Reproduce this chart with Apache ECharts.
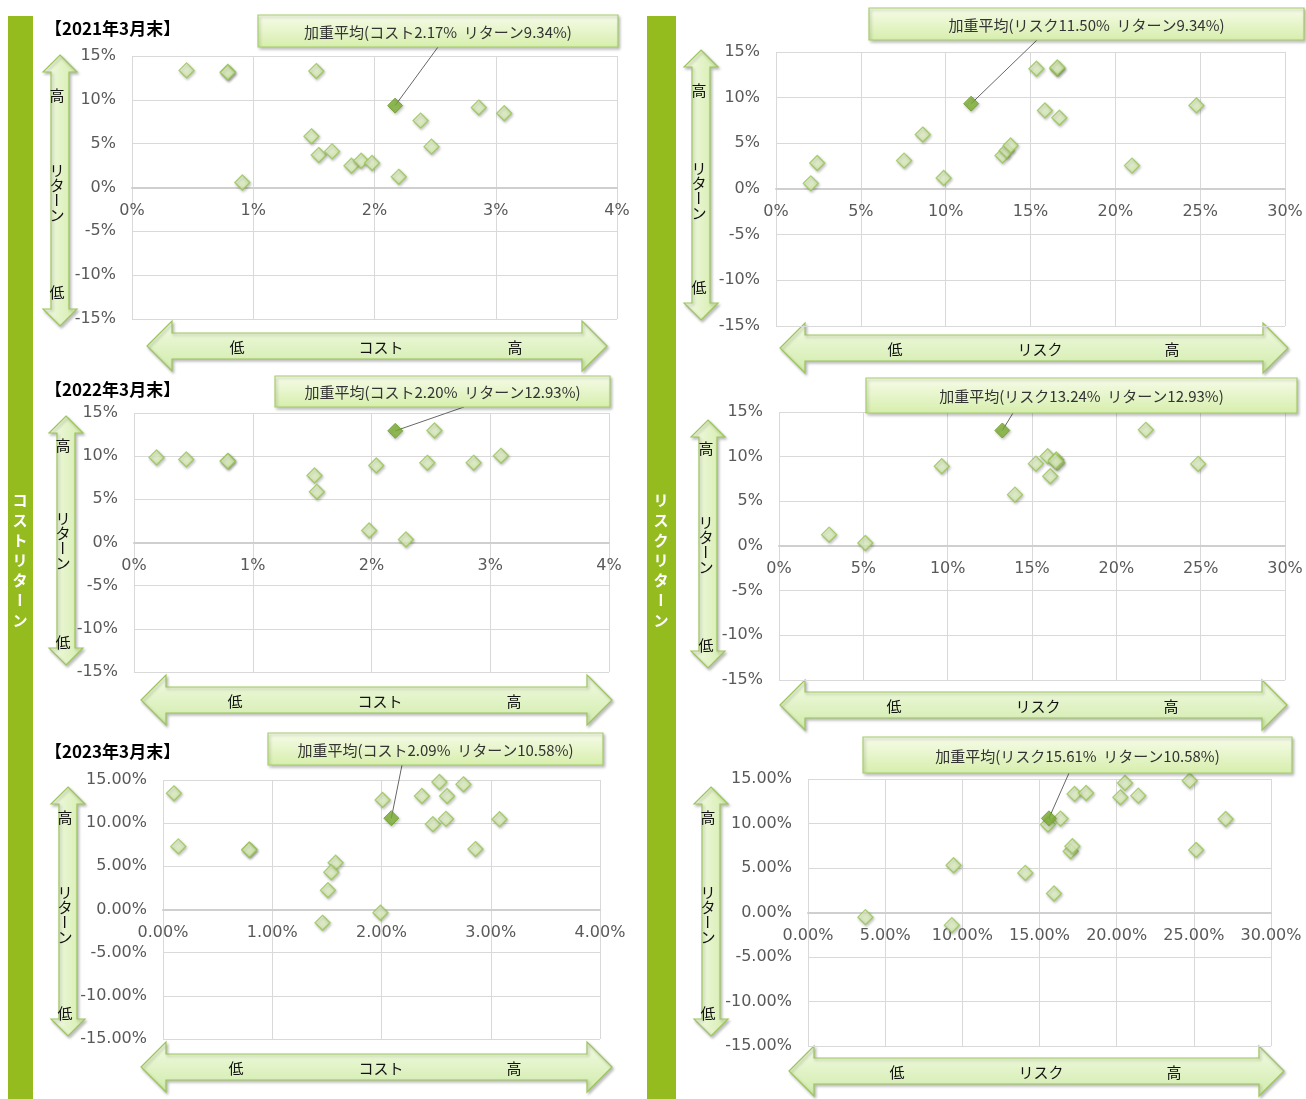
<!DOCTYPE html>
<html><head><meta charset="utf-8">
<script src="https://cdn.jsdelivr.net/npm/echarts@6/dist/echarts.min.js"></script>
<style>html,body{margin:0;padding:0;background:#fff;}#c{width:1306px;height:1099px;}</style>
</head><body><div id="c"></div>
<script>
// ---------- DATA (percent units) ----------
const titles = ['【2021年3月末】', '【2022年3月末】', '【2023年3月末】'];
const sideLabels = ['コストリターン', 'リスクリターン'];
const yTicks = [-15, -10, -5, 0, 5, 10, 15];
const costTicks = [0, 1, 2, 3, 4];
const riskTicks = [0, 5, 10, 15, 20, 25, 30];

const cost2021X = [0.45, 0.79, 0.79, 1.52, 2.86, 3.07, 2.38, 1.48, 1.54, 1.65, 2.47, 1.81, 1.89, 1.98, 2.20, 0.91];
const cost2021Y = [13.36, 13.17, 13.12, 13.28, 9.12, 8.47, 7.63, 5.84, 3.70, 4.12, 4.66, 2.48, 3.05, 2.79, 1.22, 0.57];
const cost2021Avg = [2.17, 9.34];

const risk2021X = [2.05, 2.43, 7.55, 8.65, 9.88, 13.35, 13.60, 13.83, 15.35, 16.58, 16.58, 15.85, 16.70, 20.98, 24.78];
const risk2021Y = [0.62, 2.85, 3.11, 5.96, 1.21, 3.66, 4.21, 4.76, 13.17, 13.17, 13.30, 8.60, 7.80, 2.56, 9.15];
const risk2021Avg = [11.50, 9.34];

const cost2022X = [0.19, 0.44, 0.79, 0.79, 1.52, 1.54, 2.04, 2.53, 2.47, 2.86, 3.09, 1.98, 2.29];
const cost2022Y = [9.85, 9.62, 9.46, 9.40, 7.76, 5.87, 8.92, 12.97, 9.23, 9.23, 10.04, 1.39, 0.35];
const cost2022Avg = [2.20, 12.93];

const risk2022X = [2.97, 5.12, 9.65, 13.99, 15.23, 15.93, 16.08, 16.44, 16.50, 16.40, 21.75, 24.85];
const risk2022Y = [1.27, 0.34, 8.93, 5.75, 9.22, 10.05, 7.81, 9.68, 9.30, 9.50, 13.00, 9.19];
const risk2022Avg = [13.24, 12.93];

const cost2023X = [0.10, 0.14, 0.79, 0.79, 1.58, 1.54, 1.51, 1.46, 1.99, 2.01, 2.37, 2.47, 2.53, 2.60, 2.59, 2.75, 2.86, 3.08];
const cost2023Y = [13.46, 7.31, 6.96, 6.90, 5.42, 4.31, 2.23, -1.54, -0.38, 12.69, 13.15, 9.88, 14.77, 13.15, 10.50, 14.50, 7.00, 10.46];
const cost2023Avg = [2.09, 10.58];

const risk2023X = [3.72, 9.32, 9.43, 14.08, 15.55, 16.36, 15.94, 17.02, 17.13, 17.27, 18.02, 20.24, 20.54, 21.40, 24.73, 25.15, 27.06];
const risk2023Y = [-0.52, -1.42, 5.31, 4.45, 9.88, 10.55, 2.13, 6.88, 7.44, 13.32, 13.43, 12.94, 14.55, 13.13, 14.81, 7.03, 10.51];
const risk2023Avg = [15.61, 10.58];

// ---------- LAYOUT / STYLE ----------
const JP = '"Noto Sans CJK JP", "Noto Sans", sans-serif';
const NUM = '"DejaVu Sans", Verdana, sans-serif';
const panels = [
  {kind:'cost', xs:cost2021X, ys:cost2021Y, avg:cost2021Avg, dec:0, grid:{left:132,top:56,width:485,height:263},
   box:[258,15,618,47], lead:[438,47], varrow:{cx:60,y1:55,y2:326,tx:57,hi:95,mid:170,lo:292},
   harrow:{x1:147,x2:607,cy:346,lo:237,mid:381,hi:515}},
  {kind:'risk', xs:risk2021X, ys:risk2021Y, avg:risk2021Avg, dec:0, grid:{left:776,top:52,width:509,height:274},
   box:[869,8,1304,40], lead:[1037,40], varrow:{cx:701,y1:50,y2:320,tx:699,hi:90,mid:168,lo:287},
   harrow:{x1:780,x2:1288,cy:348,lo:895,mid:1040,hi:1172}},
  {kind:'cost', xs:cost2022X, ys:cost2022Y, avg:cost2022Avg, dec:0, grid:{left:134,top:413,width:475,height:259},
   box:[275,376,610,407], lead:[464,407], varrow:{cx:66,y1:416,y2:665,tx:63,hi:445,mid:518,lo:642},
   harrow:{x1:141,x2:612,cy:700,lo:235,mid:380,hi:514}},
  {kind:'risk', xs:risk2022X, ys:risk2022Y, avg:risk2022Avg, dec:0, grid:{left:779,top:412,width:506,height:268},
   box:[866,378,1297,413], lead:[1013,413], varrow:{cx:708,y1:420,y2:668,tx:706,hi:448,mid:522,lo:645},
   harrow:{x1:780,x2:1287,cy:705,lo:894,mid:1038,hi:1171}},
  {kind:'cost', xs:cost2023X, ys:cost2023Y, avg:cost2023Avg, dec:2, grid:{left:163,top:780,width:437,height:259},
   box:[268,733,603,765], lead:[402,765], varrow:{cx:68,y1:787,y2:1036,tx:65,hi:817,mid:892,lo:1013},
   harrow:{x1:141,x2:612,cy:1067,lo:236,mid:381,hi:514}},
  {kind:'risk', xs:risk2023X, ys:risk2023Y, avg:risk2023Avg, dec:2, grid:{left:808,top:779,width:463,height:267},
   box:[863,737,1292,773], lead:[1069,773], varrow:{cx:711,y1:787,y2:1036,tx:708,hi:817,mid:892,lo:1013},
   harrow:{x1:789,x2:1284,cy:1071,lo:897,mid:1041,hi:1174}}
];

const chart = echarts.init(document.getElementById('c'), null, {renderer:'canvas'});

const grids = [], xAxes = [], yAxes = [], series = [];
const ptFill = new echarts.graphic.LinearGradient(0,0,1,1,[{offset:0,color:'#f7fdea'},{offset:1,color:'#cbe79c'}]);
panels.forEach((p, i) => {
  grids.push(Object.assign({containLabel:false}, p.grid));
  const ticks = p.kind === 'cost' ? costTicks : riskTicks;
  const fmt = v => (p.dec ? v.toFixed(p.dec) : String(v)) + '%';
  const yMin = yTicks[0], yMax = yTicks[yTicks.length-1];
  // shift the x axis up so it crosses at return = 0
  const zeroOffset = -p.grid.height * (0 - yMin) / (yMax - yMin);
  xAxes.push({
    gridIndex:i, type:'value', min:ticks[0], max:ticks[ticks.length-1], interval:ticks[1]-ticks[0],
    position:'bottom', offset:zeroOffset,
    axisLine:{show:true, onZero:false, lineStyle:{color:'#cfcfcf', width:2}},
    axisTick:{show:false},
    axisLabel:{formatter:fmt, color:'#595959', fontSize:16, fontFamily:NUM, margin:15},
    splitLine:{show:true, lineStyle:{color:'#d9d9d9', width:1}}
  });
  yAxes.push({
    gridIndex:i, type:'value', min:yMin, max:yMax, interval:yTicks[1]-yTicks[0],
    axisLine:{show:false, onZero:false}, axisTick:{show:false},
    axisLabel:{formatter:fmt, color:'#595959', fontSize:16, fontFamily:NUM, margin:16},
    splitLine:{show:true, lineStyle:{color:'#d9d9d9', width:1}}
  });
  series.push({
    type:'scatter', xAxisIndex:i, yAxisIndex:i, symbol:'diamond', symbolSize:[15,15], z:3,
    data:p.xs.map((x,k)=>[x,p.ys[k]]),
    itemStyle:{color:ptFill, borderColor:'#97c553', borderWidth:1.3,
      shadowColor:'rgba(0,0,0,0.28)', shadowBlur:3, shadowOffsetX:1, shadowOffsetY:1.5},
    silent:true
  });
});
panels.forEach((p, i) => {
  series.push({
    type:'scatter', xAxisIndex:i, yAxisIndex:i, symbol:'diamond', symbolSize:[15,15], z:4,
    data:[p.avg],
    itemStyle:{color:'#7db232', borderColor:'#6c9c27', borderWidth:1,
      shadowColor:'rgba(0,0,0,0.28)', shadowBlur:3, shadowOffsetX:1, shadowOffsetY:1.5},
    silent:true
  });
});

// ---------- decorative graphics ----------
const g = [];
const SIDE = '#94bc1e';
g.push({type:'rect', shape:{x:8,y:16,width:25,height:1083}, style:{fill:SIDE}, z:-10});
g.push({type:'rect', shape:{x:647,y:16,width:29,height:1083}, style:{fill:SIDE}, z:-10});

function vText(str, x, y0, step, font, color, weight, z) {
  Array.from(str).forEach((ch, k) => {
    g.push({type:'text', x:x, y:y0 + k*step, rotation: ch === 'ー' ? -Math.PI/2 : 0, z:z||20,
      style:{text:ch, fill:color, font:(weight||'normal') + ' ' + font, textAlign:'center', textVerticalAlign:'middle'}});
  });
}
vText(sideLabels[0], 20, 500, 20, '15px ' + JP, '#ffffff', 'bold');
vText(sideLabels[1], 661, 500, 20, '15px ' + JP, '#ffffff', 'bold');

titles.forEach((t, k) => {
  const ty = [29, 390, 752][k];
  g.push({type:'text', x:45, y:ty, z:20, style:{text:t, fill:'#000', font:'bold 17px ' + JP, textAlign:'left', textVerticalAlign:'middle'}});
});

const shadow = {shadowColor:'rgba(0,0,0,0.25)', shadowBlur:3, shadowOffsetX:1.5, shadowOffsetY:2};
panels.forEach((p, i) => {
  // vertical arrow
  const v = p.varrow, W = 34, S = 18, L = 17;
  g.push({type:'polygon', z:-2, shape:{points:[
      [v.cx, v.y1], [v.cx+W/2, v.y1+L], [v.cx+S/2, v.y1+L], [v.cx+S/2, v.y2-L], [v.cx+W/2, v.y2-L],
      [v.cx, v.y2], [v.cx-W/2, v.y2-L], [v.cx-S/2, v.y2-L], [v.cx-S/2, v.y1+L], [v.cx-W/2, v.y1+L]]},
    style:Object.assign({fill:new echarts.graphic.LinearGradient(0,0,1,0,[{offset:0,color:'#f5fbe8'},{offset:1,color:'#d2ecaa'}]),
      stroke:'#9cc65c', lineWidth:1.2}, shadow)});
  g.push({type:'text', x:v.tx, y:v.hi, z:20, style:{text:'高', fill:'#111', font:'15px ' + JP, textAlign:'center', textVerticalAlign:'middle'}});
  vText('リターン', v.tx, v.mid, 15, '15px ' + JP, '#111');
  g.push({type:'text', x:v.tx, y:v.lo, z:20, style:{text:'低', fill:'#111', font:'15px ' + JP, textAlign:'center', textVerticalAlign:'middle'}});
  // horizontal arrow
  const h = p.harrow, H = 50, SH = 26, HL = 25;
  g.push({type:'polygon', z:-2, shape:{points:[
      [h.x1, h.cy], [h.x1+HL, h.cy-H/2], [h.x1+HL, h.cy-SH/2], [h.x2-HL, h.cy-SH/2], [h.x2-HL, h.cy-H/2],
      [h.x2, h.cy], [h.x2-HL, h.cy+H/2], [h.x2-HL, h.cy+SH/2], [h.x1+HL, h.cy+SH/2], [h.x1+HL, h.cy+H/2]]},
    style:Object.assign({fill:new echarts.graphic.LinearGradient(0,0,0,1,[{offset:0,color:'#f3fbe4'},{offset:1,color:'#d0ebaa'}]),
      stroke:'#9cc65c', lineWidth:1.2}, shadow)});
  const mid = p.kind === 'cost' ? 'コスト' : 'リスク';
  [[h.lo,'低'],[h.mid,mid],[h.hi,'高']].forEach(([x,t]) => {
    g.push({type:'text', x:x, y:h.cy+1, z:20, style:{text:t, fill:'#111', font:'15px ' + JP, textAlign:'center', textVerticalAlign:'middle'}});
  });
  // callout box
  const b = p.box;
  g.push({type:'rect', z:10, shape:{x:b[0], y:b[1], width:b[2]-b[0], height:b[3]-b[1]},
    style:Object.assign({fill:new echarts.graphic.LinearGradient(0,0,0,1,[{offset:0,color:'#f7fce9'},{offset:1,color:'#d6eeac'}]),
      stroke:'#a6cd6c', lineWidth:1.2}, shadow)});
  const lbl = p.kind === 'cost' ? 'コスト' : 'リスク';
  const txt = '加重平均(' + lbl + p.avg[0].toFixed(2) + '%  リターン' + p.avg[1].toFixed(2) + '%)';
  g.push({type:'text', z:11, x:(b[0]+b[2])/2, y:(b[1]+b[3])/2 + 1,
    style:{text:txt, fill:'#333', font:'15px ' + JP, textAlign:'center', textVerticalAlign:'middle'}});
});

chart.setOption({
  animation:false,
  grid:grids, xAxis:xAxes, yAxis:yAxes, series:series,
  graphic:{elements:g}
});

// leader lines from callout boxes to the weighted average points
panels.forEach((p, i) => {
  const pt = chart.convertToPixel({seriesIndex: panels.length + i}, p.avg);
  g.push({type:'line', z:1, shape:{x1:p.lead[0], y1:p.lead[1], x2:pt[0], y2:pt[1]},
    style:{stroke:'#666', lineWidth:1}});
});
chart.setOption({graphic:{elements:g}}, {replaceMerge:['graphic']});
</script>
</body></html>
